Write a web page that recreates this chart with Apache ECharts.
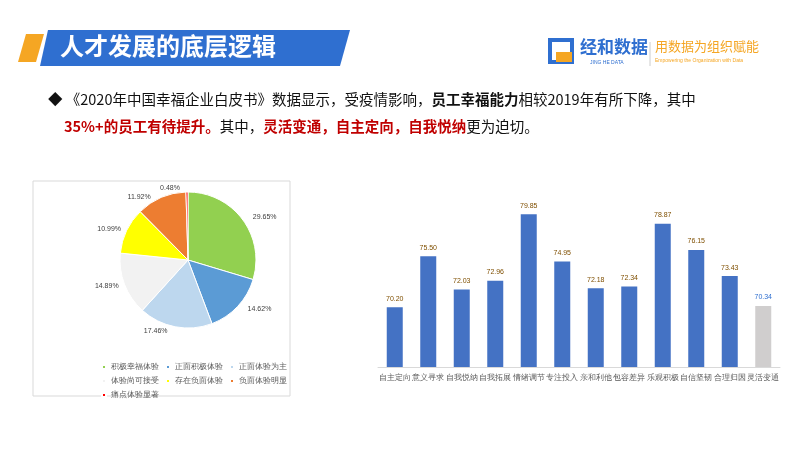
<!DOCTYPE html>
<html><head><meta charset="UTF-8">
<script src="https://cdn.jsdelivr.net/npm/echarts@6/dist/echarts.min.js"></script>
<style>
body{margin:0;width:800px;height:450px;overflow:hidden;background:#fff;font-family:"Noto Sans CJK SC",sans-serif;position:relative}
#c{position:absolute;left:0;top:0;width:800px;height:450px}
.t{position:absolute;left:48px;font-size:14.5px;color:#111}
</style></head><body>
<div id="c"></div>
<div class="t" style="top:88px">◆ 《2020年中国幸福企业白皮书》数据显示，受疫情影响，<b>员工幸福能力</b>相较2019年有所下降，其中</div>
<div class="t" style="top:115px;left:64px"><b style="color:#c00000">35%+的员工有待提升。</b>其中，<b style="color:#c00000">灵活变通，自主定向，自我悦纳</b>更为迫切。</div>
<script>
var pieNames = ['积极幸福体验','正面积极体验','正面体验为主','体验尚可接受','存在负面体验','负面体验明显','痛点体验显著'];
var pieValues = [29.65,14.62,17.46,14.89,10.99,11.92,0.48];
var pieColors = ['#92d050','#5b9bd5','#bdd7ee','#f2f2f2','#ffff00','#ed7d31','#ff0000'];
var barCats = ['自主定向','意义寻求','自我悦纳','自我拓展','情绪调节','专注投入','亲和利他','包容差异','乐观积极','自信坚韧','合理归因','灵活变通'];
var barValues = [70.20,75.50,72.03,72.96,79.85,74.95,72.18,72.34,78.87,76.15,73.43,70.34];

var chart = echarts.init(document.getElementById('c'));
chart.setOption({
  animation:false,
  graphic:[
    {type:'polygon',shape:{points:[[26,34],[44,34],[36,62],[18,62]]},style:{fill:'#f5a623'}},
    {type:'polygon',shape:{points:[[48,30],[350,30],[340,66],[40,66]]},style:{fill:'#2f6fd0'}},
    {type:'text',left:60,top:34,style:{text:'人才发展的底层逻辑',fill:'#fff',font:'bold 24px "Noto Sans CJK SC"'}},
    {type:'rect',shape:{x:550,y:40,width:22,height:22},style:{fill:'none',stroke:'#2f6fd0',lineWidth:4}},
    {type:'rect',shape:{x:556,y:52,width:16,height:10},style:{fill:'#f5a623'}},
    {type:'text',left:580,top:38,style:{text:'经和数据',fill:'#2f6fd0',font:'bold 17px "Noto Sans CJK SC"'}},
    {type:'text',left:590,top:60,style:{text:'JING HE DATA',fill:'#2f6fd0',font:'5px sans-serif'}},
    {type:'line',shape:{x1:650,y1:42,x2:650,y2:66},style:{stroke:'#ccc'}},
    {type:'text',left:655,top:40,style:{text:'用数据为组织赋能',fill:'#f5a623',font:'13px "Noto Sans CJK SC"'}},
    {type:'text',left:655,top:58,style:{text:'Empowering the Organization with Data',fill:'#f5a623',font:'5px sans-serif'}},
    {type:'rect',shape:{x:33,y:181,width:257,height:215},style:{fill:'none',stroke:'#d9d9d9'}}
  ],
  legend:{left:96,top:358,width:190,itemWidth:4,itemHeight:4,itemGap:6,icon:'rect',
    textStyle:{fontSize:7.5,color:'#595959'},data:pieNames},
  grid:{left:378,right:20,top:193.5,bottom:83},
  xAxis:{type:'category',data:barCats,axisTick:{show:false},
    axisLine:{lineStyle:{color:'#d9d9d9'}},
    axisLabel:{interval:0,fontSize:7.5,color:'#595959',margin:7}},
  yAxis:{type:'value',min:64,max:82,show:false},
  series:[
    {type:'pie',center:[188,260],radius:68,startAngle:90,clockwise:true,
      itemStyle:{borderColor:'#fff',borderWidth:1},
      label:{formatter:function(p){return p.value.toFixed(2)+'%';},fontSize:7,color:'#404040'},
      labelLine:{show:false,length:4,length2:2},
      data:pieNames.map(function(n,i){return {name:n,value:pieValues[i],itemStyle:{color:pieColors[i]}};})},
    {type:'bar',barWidth:16,
      label:{show:true,position:'top',fontSize:7,color:'#7f4f00',formatter:function(p){return p.value.toFixed(2);}},
      data:barValues.map(function(v,i){return {value:v,itemStyle:{color:i==11?'#d0cece':'#4472c4'},
        label:i==11?{color:'#2f6fd0'}:{}};})}
  ]
});
</script></body></html>
